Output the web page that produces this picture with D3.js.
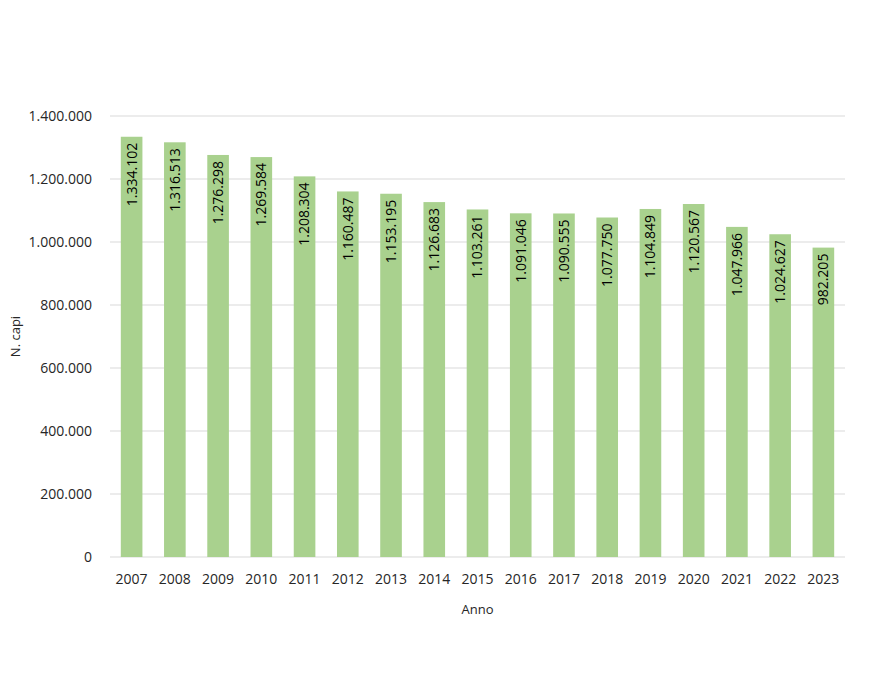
<!DOCTYPE html>
<html>
<head>
<meta charset="utf-8">
<script src="https://cdn.jsdelivr.net/npm/d3@7"></script>
<style>
  body { margin: 0; background: #fff; }
  text { font-family: "Open Sans", "Liberation Sans", sans-serif; fill: #262626; }
</style>
</head>
<body>
<div id="chart"></div>
<script>
const years = ["2007", "2008", "2009", "2010", "2011", "2012", "2013", "2014", "2015",
               "2016", "2017", "2018", "2019", "2020", "2021", "2022", "2023"];
const capi = [1334102, 1316513, 1276298, 1269584, 1208304, 1160487, 1153195, 1126683, 1103261,
              1091046, 1090555, 1077750, 1104849, 1120567, 1047966, 1024627, 982205];
const yTicks = [0, 200000, 400000, 600000, 800000, 1000000, 1200000, 1400000];

const width = 882, height = 682;
const margin = { top: 116, right: 37, bottom: 125, left: 110 };

const fmt = d3.formatLocale({ decimal: ",", thousands: ".", grouping: [3], currency: ["€", ""] }).format(",d");

const svg = d3.select("#chart").append("svg")
    .attr("width", width)
    .attr("height", height);

const x = d3.scaleBand()
    .domain(years)
    .range([margin.left, width - margin.right])
    .paddingInner(0.5)
    .paddingOuter(0.25);

const y = d3.scaleLinear()
    .domain([0, 1400000])
    .range([height - margin.bottom, margin.top]);

// gridlines
svg.append("g")
    .selectAll("line")
    .data(yTicks)
    .join("line")
    .attr("x1", margin.left)
    .attr("x2", width - margin.right)
    .attr("y1", d => y(d))
    .attr("y2", d => y(d))
    .attr("stroke", "#d9d9d9")
    .attr("stroke-width", 1);

// y tick labels
svg.append("g")
    .selectAll("text")
    .data(yTicks)
    .join("text")
    .attr("x", margin.left - 18)
    .attr("y", d => y(d))
    .attr("dy", "0.35em")
    .attr("text-anchor", "end")
    .attr("font-size", 14)
    .text(d => fmt(d));

// bars
svg.append("g")
    .selectAll("rect")
    .data(capi)
    .join("rect")
    .attr("x", (d, i) => x(years[i]))
    .attr("width", x.bandwidth())
    .attr("y", d => y(d))
    .attr("height", d => y(0) - y(d))
    .attr("fill", "#a9d18e");

// value labels, rotated, reading bottom to top, ending near the bar top
svg.append("g")
    .selectAll("text")
    .data(capi)
    .join("text")
    .attr("transform", (d, i) => `translate(${x(years[i]) + x.bandwidth() / 2},${y(d) + 6}) rotate(-90)`)
    .attr("dy", "0.35em")
    .attr("text-anchor", "end")
    .attr("font-size", 14)
    .style("fill", "#000")
    .text(d => fmt(d));

// x tick labels
svg.append("g")
    .selectAll("text")
    .data(years)
    .join("text")
    .attr("x", d => x(d) + x.bandwidth() / 2)
    .attr("y", y(0) + 27)
    .attr("text-anchor", "middle")
    .attr("font-size", 14)
    .text(d => d);

// axis titles
svg.append("text")
    .attr("x", (margin.left + width - margin.right) / 2)
    .attr("y", 614)
    .attr("text-anchor", "middle")
    .attr("font-size", 13)
    .text("Anno");

svg.append("text")
    .attr("transform", `translate(20,${(margin.top + height - margin.bottom) / 2}) rotate(-90)`)
    .attr("text-anchor", "middle")
    .attr("font-size", 13)
    .text("N. capi");
</script>
</body>
</html>
